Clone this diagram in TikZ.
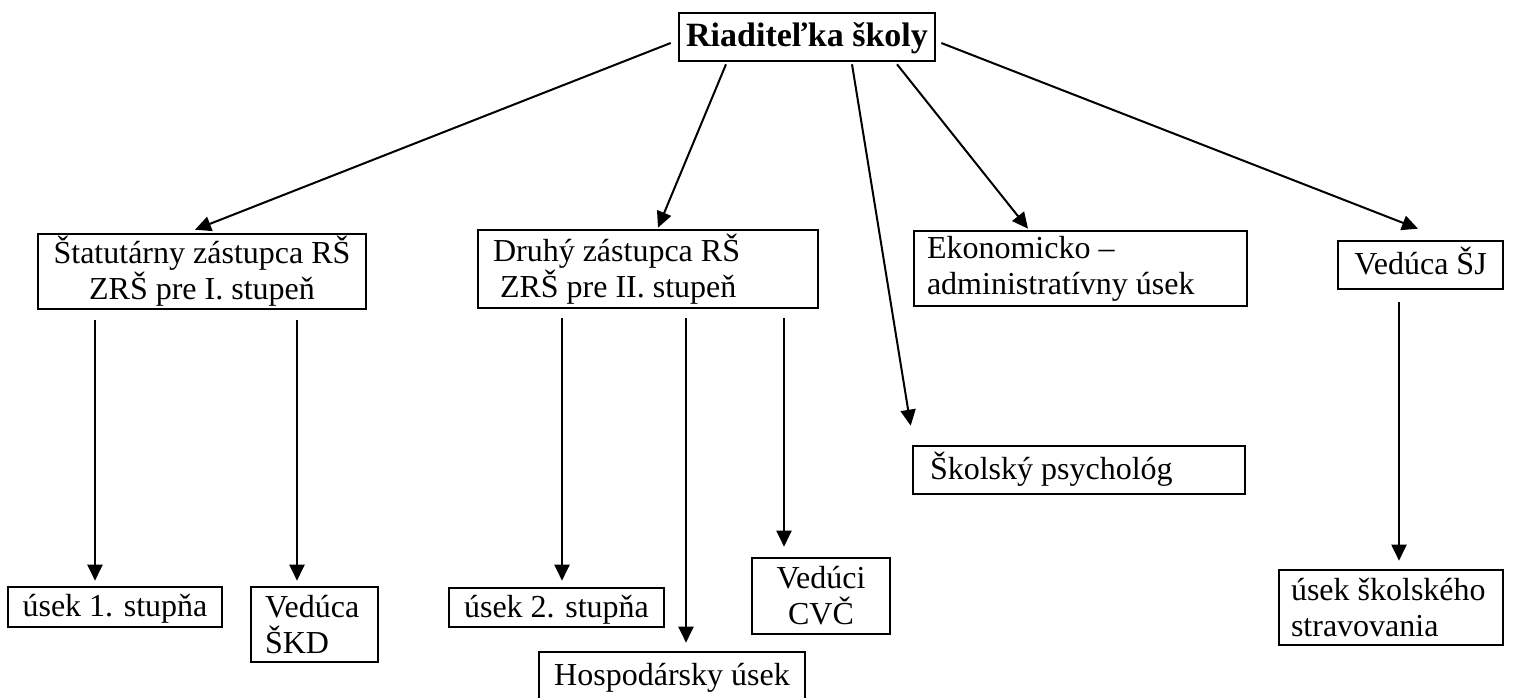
\documentclass[tikz,border=0pt]{standalone}
\usepackage{fontspec}
\setmainfont{Liberation Serif}
\usetikzlibrary{arrows.meta}

\begin{document}
\begin{tikzpicture}[x=0.5pt, y=-0.5pt,
	box/.style={draw, line width=1.3pt, inner xsep=0pt, inner ysep=0pt, font=\fontsize{16}{18}\selectfont},
	oneline/.style={text height=12pt, text depth=2.5pt},
	arr/.style={line width=1pt, -{Triangle[length=8pt,width=7.5pt]}}]
	\useasboundingbox (0,0) rectangle (1515,697);
	\node [box, oneline, minimum width=128pt, minimum height=24pt, font=\fontsize{17}{20}\selectfont\bfseries]%
				(riad) at (807,37) {Riaditeľka školy};
	\node [box, minimum width=164pt, minimum height=37.5pt, align=center]%
				(stat) at (202,271.5) {Štatutárny zástupca RŠ\\ZRŠ pre I. stupeň};
	\node [box, inner xsep=7.5pt, text width=155pt, minimum height=39pt, align=flush left]%
				(druhy) at (648,269) {Druhý zástupca RŠ\\\hspace*{3.5pt}ZRŠ pre II. stupeň};
	\node [box, inner xsep=6.5pt, text width=153.5pt, minimum height=37.5pt, align=flush left]%
				(ekon) at (1080.5,268.5) {Ekonomicko –\\administratívny úsek};
	\node [box, oneline, minimum width=82.5pt, minimum height=24pt] (sj) at (1420.5,265) {Vedúca ŠJ};
	\node [box, oneline, inner xsep=8.5pt, text width=149pt, minimum height=24pt, align=flush left]%
				(psych) at (1079,470) {Školský psychológ};
	\node [box, oneline, minimum width=107pt, minimum height=20pt] (usek1) at (115,607) {úsek 1. stupňa};
	\node [box, inner xsep=7pt, text width=49.5pt, minimum height=37.5pt, align=flush left]%
				(skd) at (314.5,624.5) {Vedúca\\ŠKD};
	\node [box, oneline, minimum width=107.5pt, minimum height=19.5pt] (usek2) at (556.5,607.5) {úsek 2. stupňa};
	\node [box, minimum width=69pt, minimum height=38pt, align=center] (cvc) at (821,596) {Vedúci\\CVČ};
	\node [box, oneline, minimum width=133pt, minimum height=24pt] (hosp) at (672,676) {Hospodársky úsek};
	\node [box, inner xsep=6pt, text width=100pt, minimum height=37.5pt, align=flush left]%
				(stravo) at (1391,607.5) {úsek školského\\stravovania};
	\draw [arr] ([shift={(-7,6)}]riad.west) -- ([shift={(-7,-3)}]stat.north);
	\draw [arr] ([shift={(-81,2)}]riad.south) -- ([shift={(10,-1)}]druhy.north);
	\draw [arr] ([shift={(45,2)}]riad.south) -- ([shift={(-1,-19)}]psych.north west);
	\draw [arr] ([shift={(90,2)}]riad.south) -- ([shift={(-52.5,-1)}]ekon.north);
	\draw [arr] ([shift={(5,6)}]riad.east) -- ([shift={(-2.5,-11)}]sj.north);
	\draw [arr] ([shift={(-107,10)}]stat.south) -- ([shift={(-20,-5)}]usek1.north);
	\draw [arr] ([shift={(95,10)}]stat.south) -- ([shift={(-17.5,-5)}]skd.north);
	\draw [arr] ([shift={(-86,9)}]druhy.south) -- ([shift={(5.5,-6)}]usek2.north);
	\draw [arr] ([shift={(38,9)}]druhy.south) -- ([shift={(14,-8)}]hosp.north);
	\draw [arr] ([shift={(136,9)}]druhy.south) -- ([shift={(-37,-10)}]cvc.north);
	\draw [arr] ([shift={(-21.5,12)}]sj.south) -- ([shift={(8,-8)}]stravo.north);
\end{tikzpicture}
\end{document}
